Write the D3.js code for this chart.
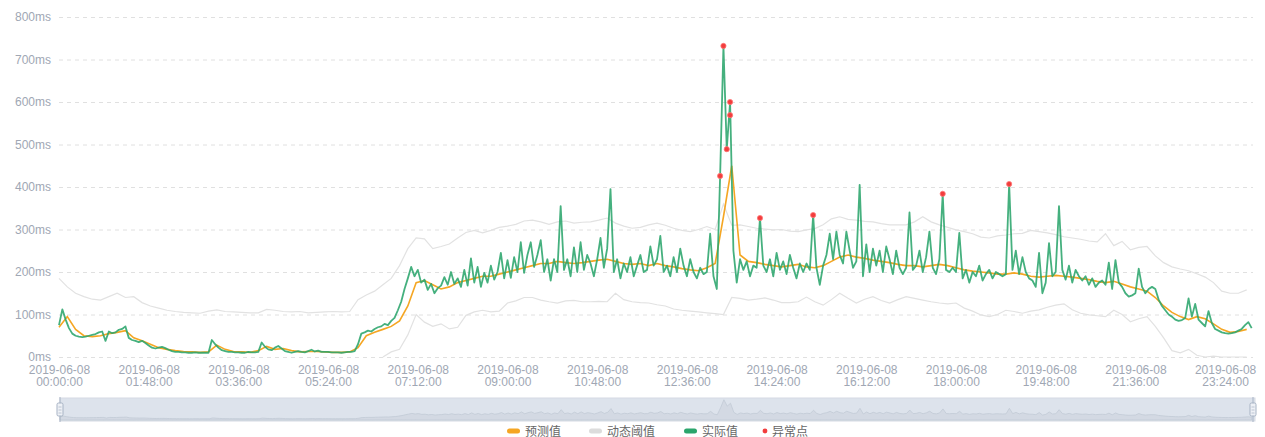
<!DOCTYPE html>
<html><head><meta charset="utf-8">
<script src="https://cdn.jsdelivr.net/npm/d3@7"></script>
<style>
body{margin:0;background:#fff;}
svg{display:block;font-family:"Liberation Sans",Arial,sans-serif;}
</style>
</head><body>
<svg id="c" width="1265" height="437"></svg>
<script>
// ---------- DATA ----------
const dateLabel = "2019-06-08";
const actualStepMin = 4;      // minutes between actual samples
const actual = [
 75,112,88,68,55,50,48,47,48,50,52,54,58,60,38,
 60,56,58,64,66,72,45,40,38,35,38,33,27,22,20,
 22,24,21,17,14,12,12,11,11,10,10,11,10,10,10,
 10,40,30,22,16,14,12,12,11,11,10,10,12,11,11,
 12,34,24,18,16,22,26,20,14,12,10,12,14,12,11,
 14,17,13,15,12,12,12,11,11,11,10,11,12,12,14,
 30,55,58,62,60,66,70,72,78,75,85,92,110,130,160,
 185,212,190,205,175,182,158,172,150,162,168,188,170,200,172,
 185,165,205,168,232,175,212,165,198,175,215,182,200,245,185,
 228,186,235,200,270,198,240,270,212,240,275,200,230,180,230,
 200,355,205,230,190,258,200,270,205,240,220,190,230,280,210,
 255,395,200,230,185,220,200,235,190,215,240,200,205,260,215,
 230,285,200,215,190,235,200,255,215,190,230,200,185,210,195,
 200,290,190,160,426,732,489,600,250,175,230,205,225,190,215,
 210,327,215,200,230,190,245,205,225,195,240,210,185,220,200,
 220,205,334,210,170,215,240,290,230,295,240,220,295,250,210,
 225,405,190,265,200,255,215,250,200,260,230,195,250,210,195,
 210,340,205,215,250,200,235,295,210,195,230,384,205,200,210,
 200,292,185,205,175,200,190,215,180,195,205,185,200,195,190,
 195,407,205,250,195,235,200,185,180,165,245,150,175,268,190,
 200,355,205,182,215,175,205,190,180,190,170,185,165,175,180,
 170,222,160,228,175,165,150,142,145,150,208,165,150,160,165,
 160,135,120,110,100,95,88,85,87,92,138,95,125,88,80,
 72,108,80,66,62,58,56,55,56,58,62,66,75,82,68
];
const predStepMin = 10;
const predicted = [
 70,95,65,50,48,50,  55,58,62,45,38,30,  22,18,15,13,12,11,  12,28,18,13,12,11,
 15,25,18,20,15,12,  13,13,12,11,11,12,  22,50,58,65,72,85,  120,175,180,170,160,165,
 175,180,185,190,190,195,  200,205,210,215,220,220,  225,222,220,222,225,228,  230,225,220,218,220,215,
 220,215,212,208,205,203,  210,220,330,450,240,225,  222,218,215,212,215,218,  212,210,215,225,235,240,
 235,232,228,225,222,218,  215,215,212,215,218,215,  210,205,202,200,198,195,  195,198,195,190,188,190,
 192,190,188,185,182,178,  175,178,172,165,160,155,  140,120,105,95,88,95,  90,78,65,58,60,65
];
const thrStepMin = 10;
const upper = [
 185,165,150,142,136,134,  142,150,140,142,128,120,  115,110,107,105,104,103,  108,111,107,106,105,104,
 104,112,110,107,106,107,  104,105,106,107,106,107,  135,146,155,170,185,215,  255,280,278,255,260,266,
 280,293,298,292,298,305,  308,312,320,322,318,312,  318,320,315,317,318,322,  327,315,308,303,305,311,
 315,310,303,298,295,300,  307,300,360,310,311,307,  303,301,299,300,296,295,  299,302,311,325,330,324,
 322,319,318,314,311,311,  311,318,330,318,311,305,  299,295,290,282,280,285,  287,290,291,298,295,292,
 288,283,280,277,273,271,  290,262,272,252,258,260,  238,222,212,207,203,196,  188,175,155,150,150,158
];
// lower threshold: null where it is below the axis (not drawn)
const lower = [
 null,null,null,null,null,null,  null,null,null,null,null,null,  null,null,null,null,null,null,  null,null,null,null,null,null,
 null,null,null,null,null,null,  null,null,null,null,null,null,  null,null,null,0,12,18,  52,100,82,72,78,66,
 70,98,106,110,106,108,  127,132,140,140,134,130,  127,132,133,130,130,131,  130,150,135,130,128,127,
 123,120,113,110,108,106,  104,102,100,140,138,134,  136,139,134,128,128,130,  141,130,122,135,150,138,
 127,136,142,133,127,135,  142,138,134,130,127,125,  127,115,108,99,95,100,  110,107,103,108,111,117,
 122,125,111,103,99,97,  95,110,100,83,90,95,  72,45,15,10,18,4,  0,2,0,0,0,0
];
const anomalyTimes  = ["13:16","13:20","13:24","13:28","13:28","14:04","15:08","17:44","19:04"];
const anomalyValues = [426,732,489,600,569,327,334,384,407];
const yTicks = [0,100,200,300,400,500,600,700,800];
const xTickTimes = ["00:00:00","01:48:00","03:36:00","05:24:00","07:12:00","09:00:00","10:48:00",
  "12:36:00","14:24:00","16:12:00","18:00:00","19:48:00","21:36:00","23:24:00"];
const legendNames = ["预测值","动态阈值","实际值","异常点"];
const colors = {pred:"#f5a623", thr:"#e2e2e2", act:"#2ba56c", anom:"#f23d3d"};

// ---------- CHART ----------
const svg = d3.select("#c");
const toMin = t => { const p = t.split(":").map(Number); return p[0]*60 + p[1] + (p[2]||0)/60; };
const x = d3.scaleLinear().domain([0, 1440]).range([59, 1255]);
const y = d3.scaleLinear().domain([0, 800]).range([357, 17]);
const plotRight = 1253;

// grid + y labels
const yAxis = d3.axisLeft(y).tickValues(yTicks).tickSize(-(plotRight - 59)).tickFormat(d => d + "ms").tickPadding(8);
const gy = svg.append("g").attr("transform", "translate(59,0)").call(yAxis);
gy.select(".domain").remove();
gy.selectAll(".tick line").attr("stroke", "#e0e0e0").attr("stroke-dasharray", "4,4");
gy.selectAll(".tick text").attr("fill", "#a0a7b4").attr("font-size", 12);

// x labels
const xAxis = d3.axisBottom(x).tickValues(xTickTimes.map(toMin)).tickSize(0).tickFormat(() => "");
const gx = svg.append("g").attr("transform", "translate(0,357)").call(xAxis);
gx.select(".domain").remove();
gx.selectAll(".tick").each(function(d, i) {
  const t = d3.select(this).append("text").attr("fill", "#a0a7b4").attr("font-size", 12).attr("text-anchor", "middle");
  t.append("tspan").attr("x", 0).attr("y", 17).text(dateLabel);
  t.append("tspan").attr("x", 0).attr("y", 29).text(xTickTimes[i]);
});

const lineOf = (step) => d3.line().defined(d => d !== null).x((d, i) => x(i * step)).y(d => y(d));

svg.append("path").datum(upper).attr("d", lineOf(thrStepMin)).attr("fill", "none").attr("stroke", colors.thr).attr("stroke-width", 1.2);
svg.append("path").datum(lower).attr("d", lineOf(thrStepMin)).attr("fill", "none").attr("stroke", colors.thr).attr("stroke-width", 1.2);
svg.append("path").datum(predicted).attr("d", lineOf(predStepMin)).attr("fill", "none").attr("stroke", colors.pred).attr("stroke-width", 1.6);
svg.append("path").datum(actual).attr("d", lineOf(actualStepMin)).attr("fill", "none").attr("stroke", colors.act).attr("stroke-width", 1.8).attr("stroke-opacity", 0.88).attr("stroke-linejoin", "round");

svg.append("g").selectAll("circle").data(anomalyValues).join("circle")
  .attr("cx", (d, i) => x(toMin(anomalyTimes[i]))).attr("cy", d => y(d))
  .attr("r", 2.6).attr("fill", colors.anom).attr("stroke", "#f77").attr("stroke-width", 0.8);

// ---------- data zoom slider ----------
const sTop = 398, sBot = 421, sL = 60, sR = 1255;
svg.append("rect").attr("x", sL).attr("y", sTop).attr("width", sR - sL).attr("height", sBot - sTop)
  .attr("fill", "#dde3ec").attr("stroke", "#d5dae3");
const ys = d3.scaleLinear().domain([0, 760]).range([sBot - 2, sTop + 1]);
const xs = d3.scaleLinear().domain([0, 1440]).range([sL, sR]);
svg.append("path").datum(actual)
  .attr("d", d3.area().x((d, i) => xs(i * actualStepMin)).y0(sBot - 1).y1(d => ys(d)))
  .attr("fill", "#d3d9e3").attr("stroke", "#c2cad6").attr("stroke-width", 0.8);
[sL, sR - 2].forEach(hx => {
  svg.append("line").attr("x1", hx).attr("x2", hx).attr("y1", sTop - 1).attr("y2", sBot + 1).attr("stroke", "#a7b3c4");
  svg.append("rect").attr("x", hx - 3).attr("y", sTop + 5).attr("width", 6).attr("height", 13).attr("rx", 1.5)
    .attr("fill", "#eef1f6").attr("stroke", "#a7b3c4");
  [sTop + 9, sTop + 12, sTop + 15].forEach(ly => svg.append("line").attr("x1", hx - 1.5).attr("x2", hx + 1.5)
    .attr("y1", ly).attr("y2", ly).attr("stroke", "#a7b3c4").attr("stroke-width", 0.7));
});

// ---------- legend ----------
const legX = [507, 589, 684, 763];
const legCol = [colors.pred, "#dcdcdc", colors.act, colors.anom];
const lg = svg.append("g").attr("font-family", "'Noto Sans CJK SC',sans-serif").attr("font-size", 12);
legendNames.forEach((n, i) => {
  if (i < 3) lg.append("rect").attr("x", legX[i]).attr("y", 428.5).attr("width", 13).attr("height", 5).attr("rx", 2.5).attr("fill", legCol[i]);
  else lg.append("circle").attr("cx", legX[i] + 2).attr("cy", 431).attr("r", 2.4).attr("fill", legCol[i]);
  lg.append("text").attr("x", legX[i] + (i < 3 ? 18 : 9)).attr("y", 435.5).attr("fill", "#666").text(n);
});
</script>
</body></html>
